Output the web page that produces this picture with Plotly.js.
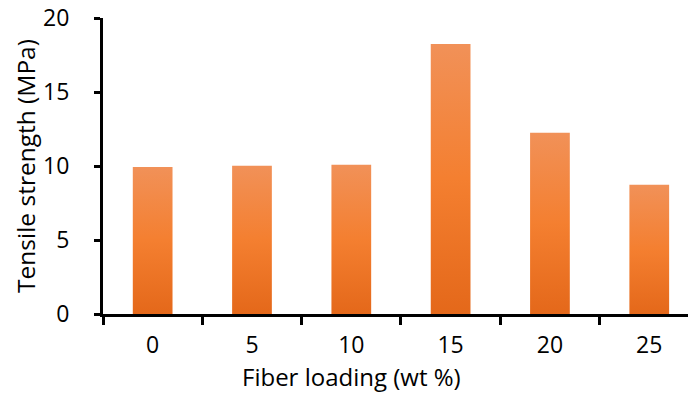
<!DOCTYPE html>
<html>
<head>
<meta charset="utf-8">
<script src="https://cdn.plot.ly/plotly-3.0.1.min.js"></script>
<style>html,body{margin:0;padding:0;background:#fff;}#chart{width:688px;height:393px;}</style>
</head>
<body>
<div id="chart"></div>
<script>
const categories = ["0", "5", "10", "15", "20", "25"];
const tensileStrength = [9.93, 10.02, 10.08, 18.25, 12.25, 8.73];
const xTitle = "Fiber loading (wt %)";
const yTitle = "Tensile strength (MPa)";

const font = "Open Sans, Liberation Sans, sans-serif";
const data = [{
  type: "bar",
  x: categories,
  y: tensileStrength,
  marker: {color: "#F27F36", line: {width: 0}},
  hoverinfo: "x+y"
}];
const layout = {
  width: 688, height: 393,
  margin: {l: 103, r: 0, t: 18, b: 79},
  paper_bgcolor: "#fff", plot_bgcolor: "#fff",
  bargap: 0.6,
  showlegend: false,
  font: {family: font, size: 24, color: "#000"},
  xaxis: {
    type: "category",
    range: [-0.5, 5.39],
    tickson: "boundaries",
    ticks: "outside", ticklen: 8, tickwidth: 3, tickcolor: "#000",
    ticklabelstandoff: 8,
    showline: true, linewidth: 3, linecolor: "#000",
    showgrid: false, zeroline: false,
    tickfont: {family: font, size: 23, color: "#000"}
  },
  yaxis: {
    range: [0, 20],
    tickvals: [0, 5, 10, 15, 20],
    ticks: "outside", ticklen: 6, tickwidth: 3, tickcolor: "#000",
    ticklabelstandoff: 20,
    showline: true, linewidth: 3, linecolor: "#000",
    showgrid: false, zeroline: false,
    tickfont: {family: font, size: 23, color: "#000"},
    title: {text: yTitle, font: {family: font, size: 24.5, color: "#000"}, standoff: 1}
  },
  annotations: [{
    text: xTitle,
    xref: "paper", yref: "paper",
    x: 0.4256, y: -0.21,
    xanchor: "center", yanchor: "middle",
    showarrow: false,
    font: {family: font, size: 24, color: "#000"}
  }]
};
Plotly.newPlot("chart", data, layout, {displayModeBar: false, staticPlot: true}).then(function(gd){
  const svg = gd.querySelector("svg.main-svg");
  const ns = "http://www.w3.org/2000/svg";
  let defs = svg.querySelector("defs");
  if (!defs) { defs = document.createElementNS(ns, "defs"); svg.insertBefore(defs, svg.firstChild); }
  const grad = document.createElementNS(ns, "linearGradient");
  grad.setAttribute("id", "barGrad");
  grad.setAttribute("x1", "0"); grad.setAttribute("y1", "0");
  grad.setAttribute("x2", "0"); grad.setAttribute("y2", "1");
  [["0", "#F19158"], ["0.5", "#F47F30"], ["1", "#E4681A"]].forEach(function(s){
    const st = document.createElementNS(ns, "stop");
    st.setAttribute("offset", s[0]); st.setAttribute("stop-color", s[1]);
    grad.appendChild(st);
  });
  defs.appendChild(grad);
  gd.querySelectorAll(".bars .point path").forEach(function(p){ p.style.fill = "url(#barGrad)"; });
});
</script>
</body>
</html>
